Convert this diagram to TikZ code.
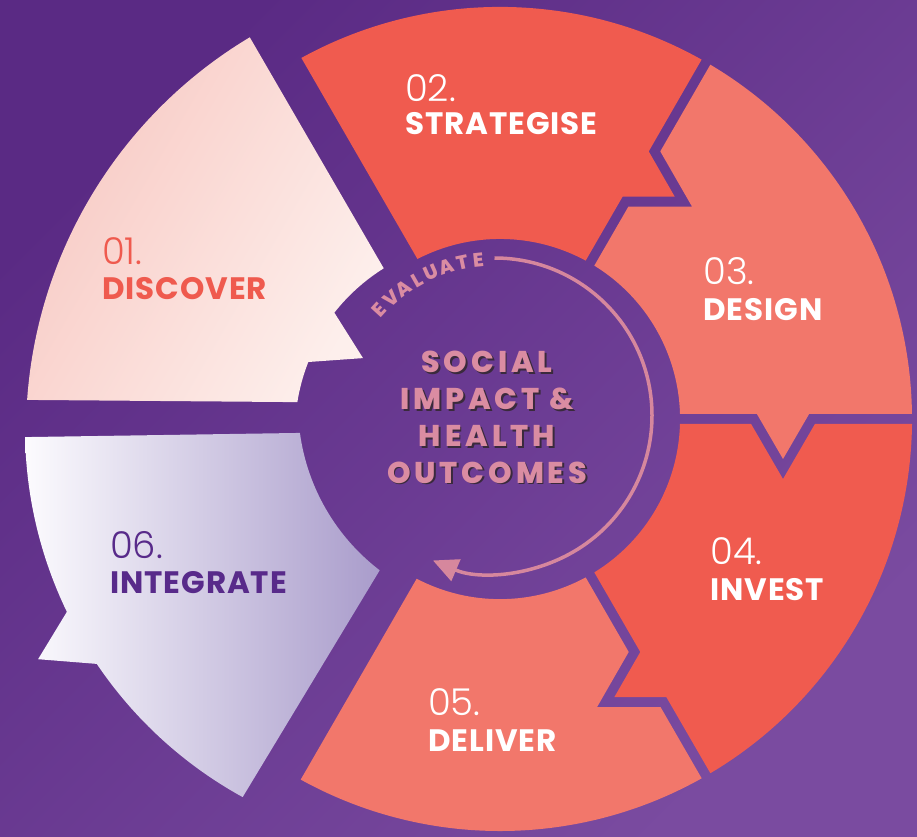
\documentclass[tikz,border=0pt]{standalone}
\usepackage{fontspec}
\setmainfont{Poppins}
\newfontfamily\numfont{Poppins}[UprightFont={* Light}]
\newfontfamily\labfont{Poppins}[UprightFont={* Bold}, LetterSpace=3]
\newfontfamily\ctrfont{Poppins}[UprightFont={* ExtraBold}, LetterSpace=13]
\newfontfamily\evfont{Poppins}[UprightFont={* ExtraBold}]
\usetikzlibrary{arrows.meta}
\definecolor{bgA}{HTML}{5A2A84}
\definecolor{bgB}{HTML}{7A4BA0}
\definecolor{segred}{HTML}{F05B4F}
\definecolor{segsal}{HTML}{F2776B}
\definecolor{discA}{HTML}{F8C9C3}
\definecolor{discB}{HTML}{FDEFEC}
\definecolor{intA}{HTML}{FCFBFE}
\definecolor{intB}{HTML}{A99CCB}
\definecolor{coral}{HTML}{EF5A4E}
\definecolor{intText}{HTML}{582A8A}
\definecolor{pinkc}{HTML}{DA8CA2}
\definecolor{ringc}{HTML}{D6879D}
\definecolor{shadowc}{HTML}{3A2A3C}
\newcommand\shtext[1]{\makebox[0pt][l]{\hspace{1.8pt}\raisebox{-1.8pt}{\textcolor{shadowc}{#1}}}\textcolor{pinkc}{#1}}
\newcommand\mkbound[3]{%
\begin{scope}[shift={(500,417)},rotate=#2]
\coordinate (#1Ao) at (412,5);
\coordinate (#1At2) at (#3+26.1,5);
\coordinate (#1Atip) at (#3,-40);
\coordinate (#1At1) at (#3-26.1,5);
\coordinate (#1Ai) at (180,5);
\coordinate (#1Bo) at (412,-5);
\coordinate (#1Bt2) at (#3+31.9,-5);
\coordinate (#1Btip) at (#3,-60);
\coordinate (#1Bt1) at (#3-31.9,-5);
\coordinate (#1Bi) at (180,-5);
\end{scope}}
\tikzset{
  num/.style={anchor=base west, inner sep=0pt, font=\numfont\fontsize{37}{37}\selectfont},
  lab/.style={anchor=base west, inner sep=0pt, font=\labfont\fontsize{31}{31}\selectfont},
  ctr/.style={anchor=base, inner sep=0pt, font=\ctrfont\fontsize{30}{30}\selectfont},
  evtext/.style={inner sep=0pt, text=pinkc, font=\evfont\fontsize{19.5}{19.5}\selectfont},
}
\begin{document}
\begin{tikzpicture}[x=1pt,y=1pt]
\useasboundingbox (0,0) rectangle (917,836);
\shade[top color=bgA, bottom color=bgB, shading angle=45] (0,0) rectangle (917,836);

\mkbound{p}{60}{280}
\mkbound{q}{0}{283}
\mkbound{r}{-60}{298}
\begin{scope}[shift={(500,417)},rotate=120]
\coordinate (si) at (180,-8.5); \coordinate (so) at (412,-8.5);
\end{scope}
\begin{scope}[shift={(500,417)},rotate=-120]
\coordinate (di) at (180,7.7); \coordinate (do) at (412,7.7);
\end{scope}

% STRATEGISE
\fill[segred] (si) -- (so) arc[start angle=118.82, end angle=60.7, radius=412]
  -- (pAt2) -- (pAtip) -- (pAt1) -- (pAi)
  arc[start angle=61.59, end angle=117.3, radius=180] -- cycle;
% DESIGN
\fill[segsal] (pBi) -- (pBt1) -- (pBtip) -- (pBt2) -- (pBo)
  arc[start angle=59.3, end angle=0.7, radius=412]
  -- (qAt2) -- (qAtip) -- (qAt1) -- (qAi)
  arc[start angle=1.59, end angle=58.41, radius=180] -- cycle;
% INVEST
\fill[segred] (qBi) -- (qBt1) -- (qBtip) -- (qBt2) -- (qBo)
  arc[start angle=-0.7, end angle=-59.3, radius=412]
  -- (rAt2) -- (rAtip) -- (rAt1) -- (rAi)
  arc[start angle=-58.41, end angle=-1.59, radius=180] -- cycle;
% DELIVER
\fill[segsal] (rBi) -- (rBt1) -- (rBtip) -- (rBt2) -- (rBo)
  arc[start angle=-60.7, end angle=-118.93, radius=412]
  -- (do) -- (di)
  arc[start angle=-117.55, end angle=-61.59, radius=180] -- cycle;
% DISCOVER
\begin{scope}[shift={(486,404)}]
\shade[top color=discA, bottom color=discB, shading angle=60]
  (120.9:460) -- (122:193) arc[start angle=122, end angle=141.8, radius=193]
  -- (149:143.5) -- (158.5:191) arc[start angle=158.5, end angle=171, radius=191]
  -- (176:460) arc[start angle=176, end angle=120.9, radius=460] -- cycle;
\end{scope}
% INTEGRATE
\shade[left color=intA, right color=intB]
  (25.1,398.9) arc[start angle=181.1, end angle=205.8, radius=420]
  -- (38.1,176.8) -- (96.8,172.1) arc[start angle=214, end angle=241.2, radius=420]
  -- (379.7,265.7) arc[start angle=232.6, end angle=187.7, radius=208] -- cycle;

% evaluate ring
\coordinate (rc) at (494.5,420.5);
\draw[ringc, line width=3.5pt, -{Triangle[length=25pt,width=23pt]}]
  (rc) ++(90:157.5) arc[start angle=90, end angle=-113, radius=157.5];
\foreach \ch [count=\i from 0] in {E,V,A,L,U,A,T,E}{
  \pgfmathsetmacro\ang{137.5-\i*5.93}
  \node[evtext, rotate=\ang-90] at ([shift={(\ang:156)}]rc) {\ch};
}

% centre text
\foreach \y/\t in {463/SOCIAL, 426/IMPACT \&, 389/HEALTH, 353/OUTCOMES}{
  \node[ctr] at (487,\y) {\shtext{\t}};
}

% labels
\node[num, text=coral] at (102,571) {01.};
\node[lab, text=coral] at (102,536) {DISCOVER};
\node[num, text=white] at (405,734) {02.};
\node[lab, text=white] at (405,701) {STRATEGISE};
\node[num, text=white] at (703,551) {03.};
\node[lab, text=white] at (703,515) {DESIGN};
\node[num, text=white] at (710,272) {04.};
\node[lab, text=white] at (710,236) {INVEST};
\node[num, text=white] at (428,121) {05.};
\node[lab, text=white] at (428,85) {DELIVER};
\node[num, text=intText] at (110,278) {06.};
\node[lab, text=intText] at (110,243) {INTEGRATE};
\end{tikzpicture}
\end{document}
